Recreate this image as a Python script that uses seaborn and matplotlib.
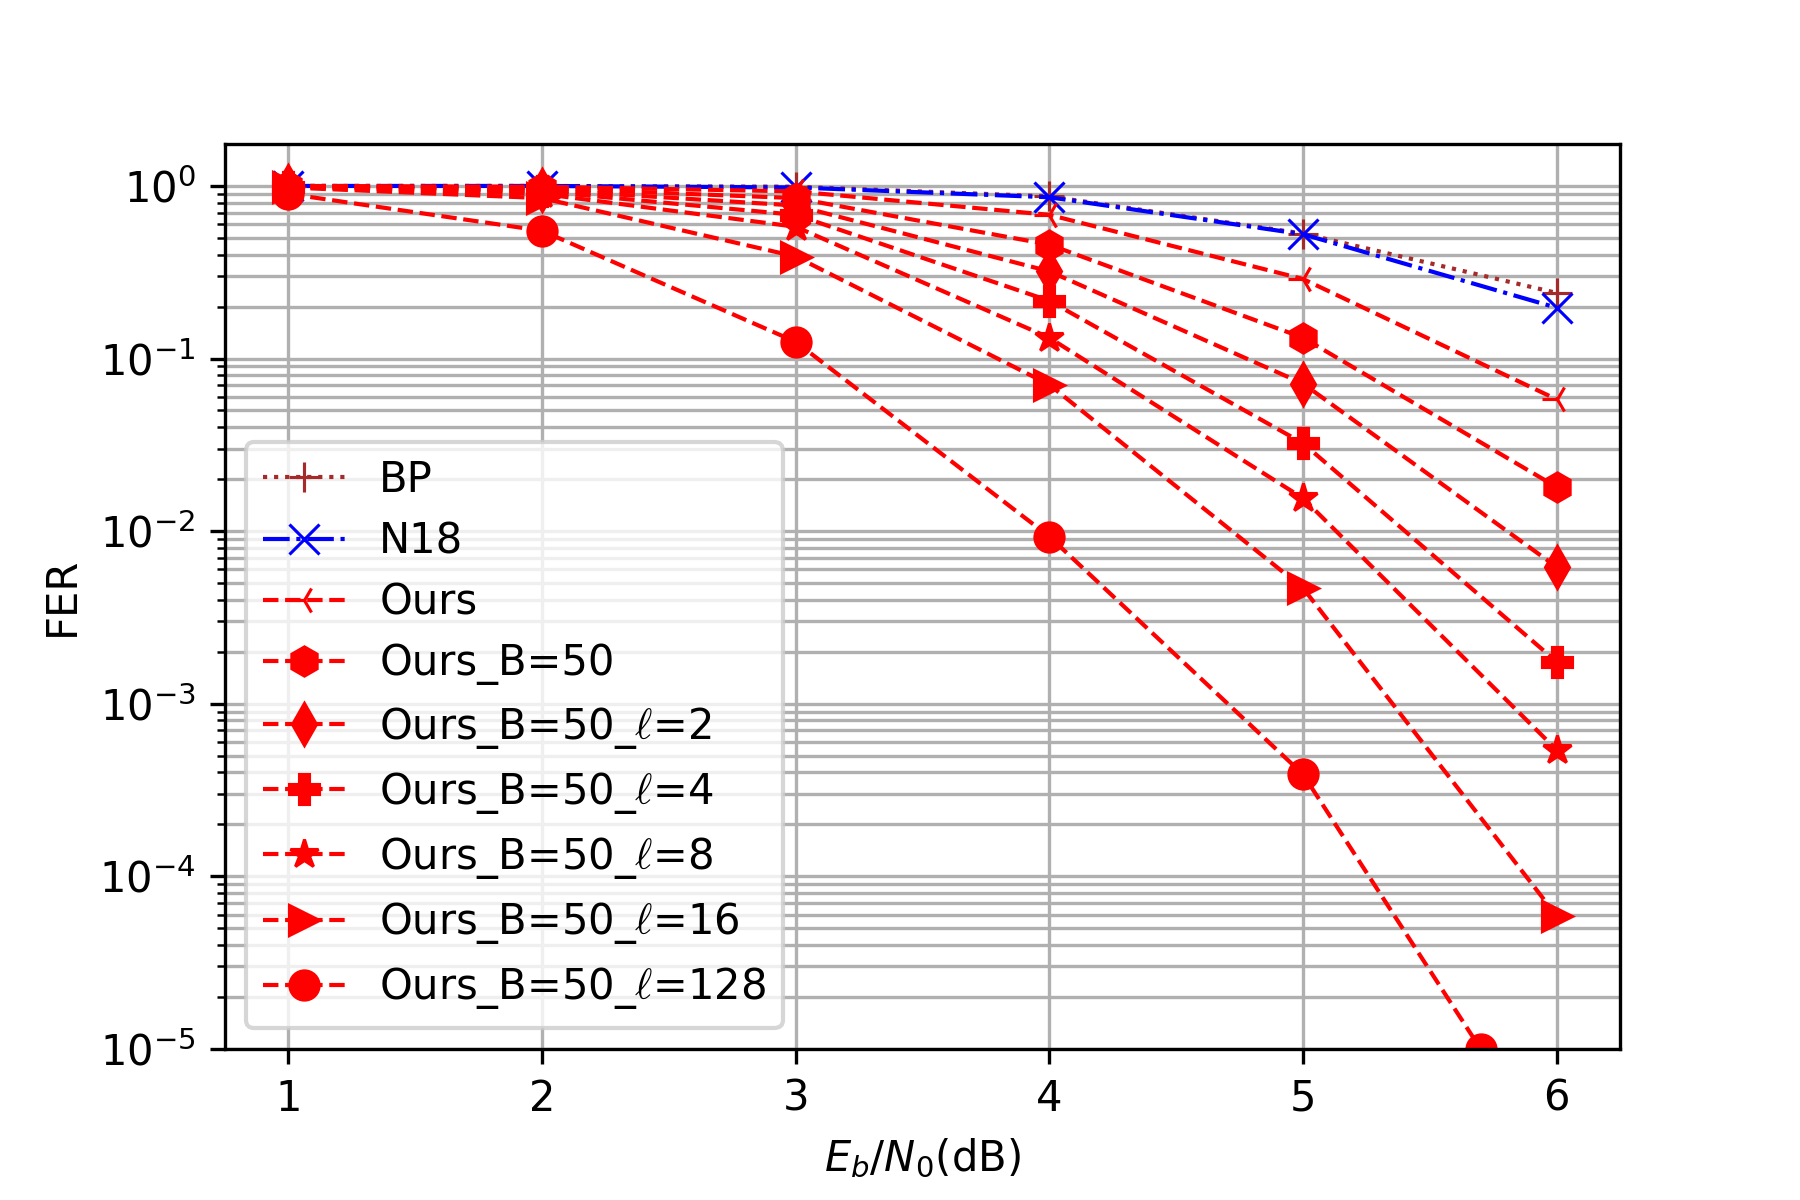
import matplotlib
matplotlib.use("Agg")
import matplotlib.pyplot as plt
from matplotlib.font_manager import FontProperties
import seaborn as sns
import numpy as np

snr = [1, 2, 3, 4, 5, 6]
snr_128 = [1, 2, 3, 4, 5, 5.7]

fer_bp = [1.0, 1.0, 0.99, 0.87, 0.53, 0.24]
fer_n18 = [1.0, 1.0, 0.98, 0.86, 0.525, 0.197]
fer_ours = [1.0, 0.99, 0.93, 0.68, 0.289, 0.058]
fer_b50 = [1.0, 0.97, 0.85, 0.457, 0.132, 0.018]
fer_l2 = [1.0, 0.95, 0.77, 0.32, 0.0716, 0.0062]
fer_l4 = [0.99, 0.93, 0.68, 0.216, 0.0323, 0.00175]
fer_l8 = [0.99, 0.90, 0.58, 0.132, 0.0155, 0.00054]
fer_l16 = [0.98, 0.85, 0.39, 0.0705, 0.00468, 5.9e-5]
fer_l128 = [0.90, 0.55, 0.125, 0.0093, 0.00039, 1e-5]

labels = ["BP", "N18", "Ours", "Ours_B=50", r"Ours_B=50_$\ell$=2",
          r"Ours_B=50_$\ell$=4", r"Ours_B=50_$\ell$=8",
          r"Ours_B=50_$\ell$=16", r"Ours_B=50_$\ell$=128"]

series = [
    (snr, fer_bp, "brown", ":", "+"),
    (snr, fer_n18, "blue", "-.", "x"),
    (snr, fer_ours, "red", "--", "3"),
    (snr, fer_b50, "red", "--", "h"),
    (snr, fer_l2, "red", "--", "d"),
    (snr, fer_l4, "red", "--", "P"),
    (snr, fer_l8, "red", "--", "*"),
    (snr, fer_l16, "red", "--", ">"),
    (snr_128, fer_l128, "red", "--", "o"),
]

fig, ax = plt.subplots(figsize=(6, 4), dpi=300)
fig.subplots_adjust(bottom=0.126, top=0.88, left=0.125, right=0.9)
for (xs, ys, c, ls, m), lab in zip(series, labels):
    sns.lineplot(x=xs, y=ys, ax=ax, color=c, linestyle=ls, marker=m,
                 markersize=7, markeredgecolor=c, linewidth=1,
                 label=lab, errorbar=None)

ax.set_yscale("log")
ax.set_ylim(1e-5, 1.75)
ax.set_xlim(0.75, 6.25)
ax.set_xticks(snr)
ax.grid(True, which="both", color="#b0b0b0", linewidth=0.8)
ax.set_axisbelow(True)
ax.set_xlabel(r"$E_b/N_0$(dB)")
ax.set_ylabel("FER")
leg_prop = FontProperties(size=10, math_fontfamily="cm")
ax.legend(loc="lower left", prop=leg_prop, labelspacing=0.46)
fig.savefig("out.png", dpi=300)
